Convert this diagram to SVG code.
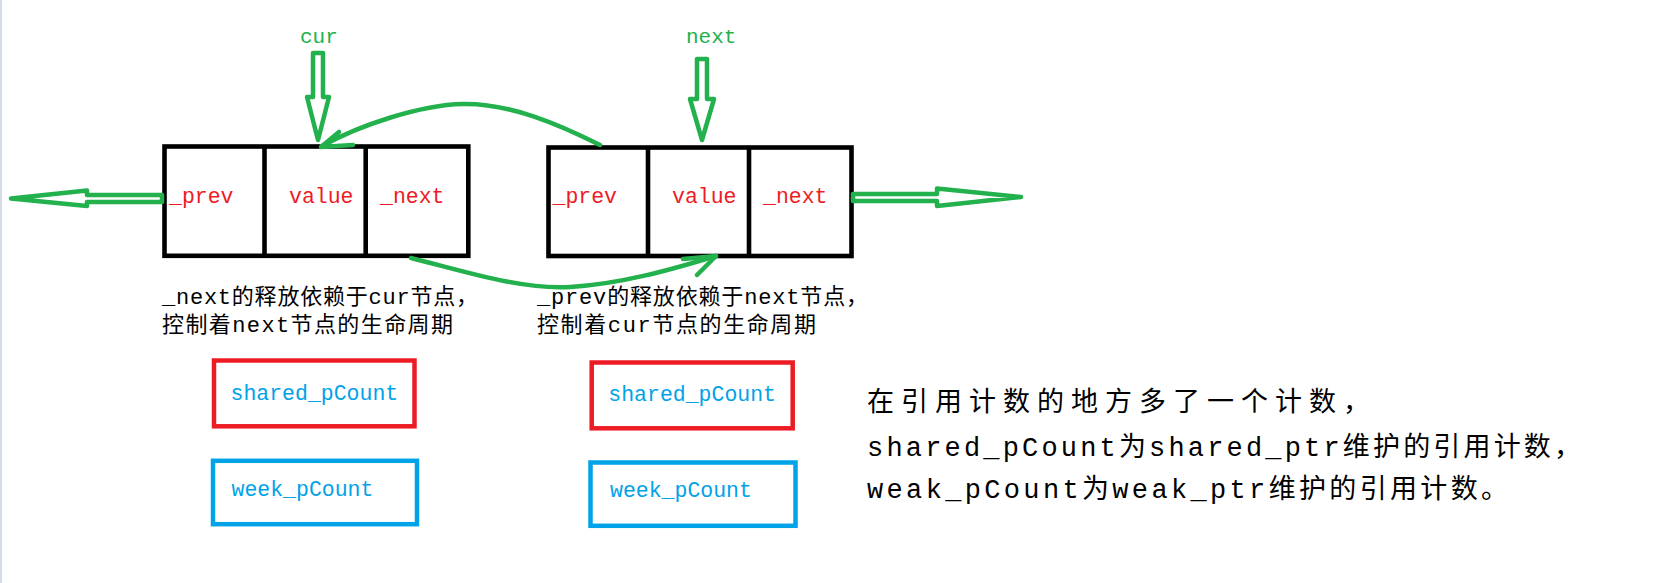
<svg xmlns="http://www.w3.org/2000/svg" width="1659" height="583" viewBox="0 0 1659 583">
  <style>
    .cell { fill: none; stroke: #000; stroke-width: 4.6; }
    .g { fill: none; stroke: #22B14C; stroke-width: 4.5; stroke-linejoin: round; stroke-linecap: round; }
    .lbl { font-family: "Liberation Mono", "DejaVu Sans Mono", monospace; font-size: 21.5px; fill: #ED1C24; }
    .ptr { font-family: "Liberation Mono", "DejaVu Sans Mono", monospace; font-size: 21px; fill: #22B14C; }
    .cnt { font-family: "Liberation Mono", "DejaVu Sans Mono", monospace; font-size: 21.5px; fill: #00A2E8; }
    .cap { font-family: "Liberation Mono", "Noto Sans CJK SC", monospace; font-size: 22px; fill: #000; }
    .note { font-family: "Liberation Mono", "Noto Sans CJK SC", monospace; font-size: 27px; fill: #000; }
    .red { fill: none; stroke: #ED1C24; stroke-width: 4.5; }
    .blue { fill: none; stroke: #00A2E8; stroke-width: 4.5; }
  </style>
  <rect x="0" y="0" width="1659" height="583" fill="#fff"/>
  <rect x="0" y="0" width="2" height="583" fill="#D4DCE6"/>

  <g id="node-cur">
    <rect class="cell" x="164.5" y="146.5" width="303.8" height="109.3"/>
    <line class="cell" x1="264.5" y1="146.5" x2="264.5" y2="255.8"/>
    <line class="cell" x1="365.7" y1="146.5" x2="365.7" y2="255.8"/>
    <text class="lbl" x="169" y="203">_prev</text>
    <text class="lbl" x="289" y="203">value</text>
    <text class="lbl" x="380" y="203">_next</text>
  </g>

  <g id="node-next">
    <rect class="cell" x="548.5" y="147.5" width="303" height="108.5"/>
    <line class="cell" x1="648" y1="147.5" x2="648" y2="256"/>
    <line class="cell" x1="749" y1="147.5" x2="749" y2="256"/>
    <text class="lbl" x="552.5" y="203">_prev</text>
    <text class="lbl" x="672" y="203">value</text>
    <text class="lbl" x="763" y="203">_next</text>
  </g>

  <g id="ptr-cur">
    <text class="ptr" x="300" y="43">cur</text>
  </g>
  <g id="ptr-next">
    <text class="ptr" x="686" y="43">next</text>
  </g>

  <g id="caption-cur">
    <text class="cap" x="162" y="304" textLength="316" lengthAdjust="spacing">_next的释放依赖于cur节点，</text>
    <text class="cap" x="162" y="332" textLength="291" lengthAdjust="spacing">控制着next节点的生命周期</text>
  </g>
  <g id="caption-next">
    <text class="cap" x="537" y="304" textLength="331" lengthAdjust="spacing">_prev的释放依赖于next节点，</text>
    <text class="cap" x="537" y="332" textLength="279" lengthAdjust="spacing">控制着cur节点的生命周期</text>
  </g>

  <g id="shared-count-cur">
    <rect class="red" x="214" y="360.5" width="200.5" height="65.8"/>
    <text class="cnt" x="230.5" y="399.5">shared_pCount</text>
  </g>
  <g id="weak-count-cur">
    <rect class="blue" x="213" y="460.8" width="204" height="63.4"/>
    <text class="cnt" x="231.5" y="495.7">week_pCount</text>
  </g>
  <g id="shared-count-next">
    <rect class="red" x="591.7" y="362.5" width="201" height="65.8"/>
    <text class="cnt" x="608.3" y="400.7">shared_pCount</text>
  </g>
  <g id="weak-count-next">
    <rect class="blue" x="590.5" y="462.5" width="205" height="63.3"/>
    <text class="cnt" x="610" y="497.3">week_pCount</text>
  </g>

  <g id="note">
    <text class="note" x="867" y="411" textLength="503" lengthAdjust="spacing">在引用计数的地方多了一个计数，</text>
    <text class="note" x="867" y="456" textLength="714" lengthAdjust="spacing">shared_pCount为shared_ptr维护的引用计数，</text>
    <text class="note" x="867" y="498" textLength="641" lengthAdjust="spacing">weak_pCount为weak_ptr维护的引用计数。</text>
  </g>

  <g id="connectors">
    <polygon class="g" points="313,53 323,53 323,97 329,97 318,140 307,97 313,97"/>
    <polygon class="g" points="697,59 707,59 707,99 714,99 702,140 690,99 697,99"/>
    <polygon class="g" points="162,195 87,195 87,190.5 11,198.5 87,206 87,202 162,202"/>
    <polygon class="g" points="853,194 937,194 937,188.5 1021,197 937,206 937,201 853,201"/>
    <path class="g" d="M 600,145 C 560,125 510,103 463,104 C 420,105 360,125 322,146"/>
    <polyline class="g" points="339,132 321,147 353,145"/>
    <path class="g" d="M 411,258 C 460,270 520,290 570,287 C 620,284 670,270 716,256"/>
    <polyline class="g" points="683,259 716,256 697,275"/>
  </g>
</svg>
